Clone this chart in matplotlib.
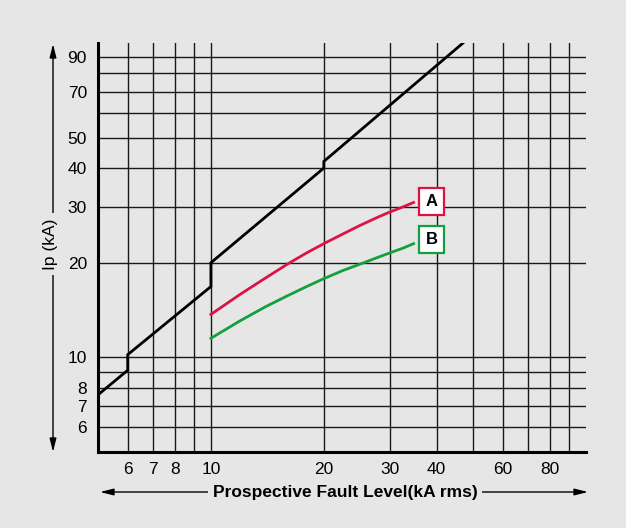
import matplotlib
matplotlib.use("Agg")
import matplotlib.pyplot as plt

plt.rcParams['font.family'] = ['Liberation Sans', 'DejaVu Sans']

# Data
limit_x = [5, 6, 6, 10, 10, 20, 20, 47]
limit_y = [7.6, 9.1, 10.2, 16.8, 20.0, 40.0, 42.0, 100.0]

curve_x = [10, 12, 14, 16, 18, 20, 22.5, 25, 28, 30, 32.5, 34.7]
curve_a = [13.7, 15.9, 17.9, 19.8, 21.5, 23.0, 24.7, 26.3, 28.0, 29.0, 30.1, 31.1]
curve_b = [11.5, 13.1, 14.5, 15.7, 16.8, 17.8, 18.9, 19.8, 20.85, 21.5, 22.25, 23.0]

grid_vals = [6, 7, 8, 9, 10, 20, 30, 40, 50, 60, 70, 80, 90]
x_labels = ['6', '7', '8', '', '10', '20', '30', '40', '', '60', '', '80', '']
y_labels = ['6', '7', '8', '', '10', '20', '30', '40', '50', '', '70', '', '90']

BG = '#e6e6e6'
RED = '#dc1446'
GREEN = '#13a03c'

fig = plt.figure(figsize=(6.26, 5.28), dpi=100, facecolor=BG)
ax = fig.add_axes([98/626, 1-452/528, 488/626, 409/528])
ax.set_facecolor(BG)
ax.set_xscale('log')
ax.set_yscale('log')
ax.set_xlim(5, 100)
ax.set_ylim(5, 100)
ax.minorticks_off()
ax.set_xticks(grid_vals)
ax.set_xticklabels(x_labels)
ax.set_yticks(grid_vals)
ax.set_yticklabels(y_labels)
ax.tick_params(axis='both', length=0, labelsize=12.5, colors='black')
ax.tick_params(axis='x', pad=7)
ax.tick_params(axis='y', pad=8)
ax.grid(True, which='major', color='#1a1a1a', lw=1.0)
ax.set_axisbelow(True)
for s in ['top', 'right']:
    ax.spines[s].set_visible(False)
for s in ['left', 'bottom']:
    ax.spines[s].set_linewidth(2.2)
    ax.spines[s].set_color('black')

ax.plot(limit_x, limit_y, color='black', lw=2.0, solid_joinstyle='miter', zorder=3)
ax.plot(curve_x, curve_a, color=RED, lw=2.0, zorder=3)
ax.plot(curve_x, curve_b, color=GREEN, lw=2.0, zorder=3)

ax.text(38.8, 31.3, 'A', ha='center', va='center', fontsize=12, fontweight='bold', zorder=4,
        bbox=dict(boxstyle='square,pad=0.38', fc='white', ec=RED, lw=1.6))
ax.text(38.8, 23.7, 'B', ha='center', va='center', fontsize=12, fontweight='bold', zorder=4,
        bbox=dict(boxstyle='square,pad=0.38', fc='white', ec=GREEN, lw=1.6))


def px(x, y):
    return (x/626, 1-y/528)


aprops = dict(arrowstyle='<|-|>,head_length=0.8,head_width=0.2', color='black', lw=1.0,
              shrinkA=0, shrinkB=0)
ax.annotate('', xy=px(53, 44), xytext=px(53, 452), xycoords='figure fraction',
            textcoords='figure fraction', arrowprops=aprops, annotation_clip=False)
ax.annotate('', xy=px(588, 492), xytext=px(100, 492), xycoords='figure fraction',
            textcoords='figure fraction', arrowprops=aprops, annotation_clip=False)

fig.text(*px(51, 244), 'Ip (kA)', rotation=90, ha='center', va='center', fontsize=12.5,
         bbox=dict(boxstyle='square,pad=0.3', fc=BG, ec='none'))
fig.text(*px(345, 492), 'Prospective Fault Level(kA rms)', ha='center', va='center',
         fontsize=12.5, fontweight='bold',
         bbox=dict(boxstyle='square,pad=0.25', fc=BG, ec='none'))

fig.savefig('out.png', dpi=100, facecolor=BG)
